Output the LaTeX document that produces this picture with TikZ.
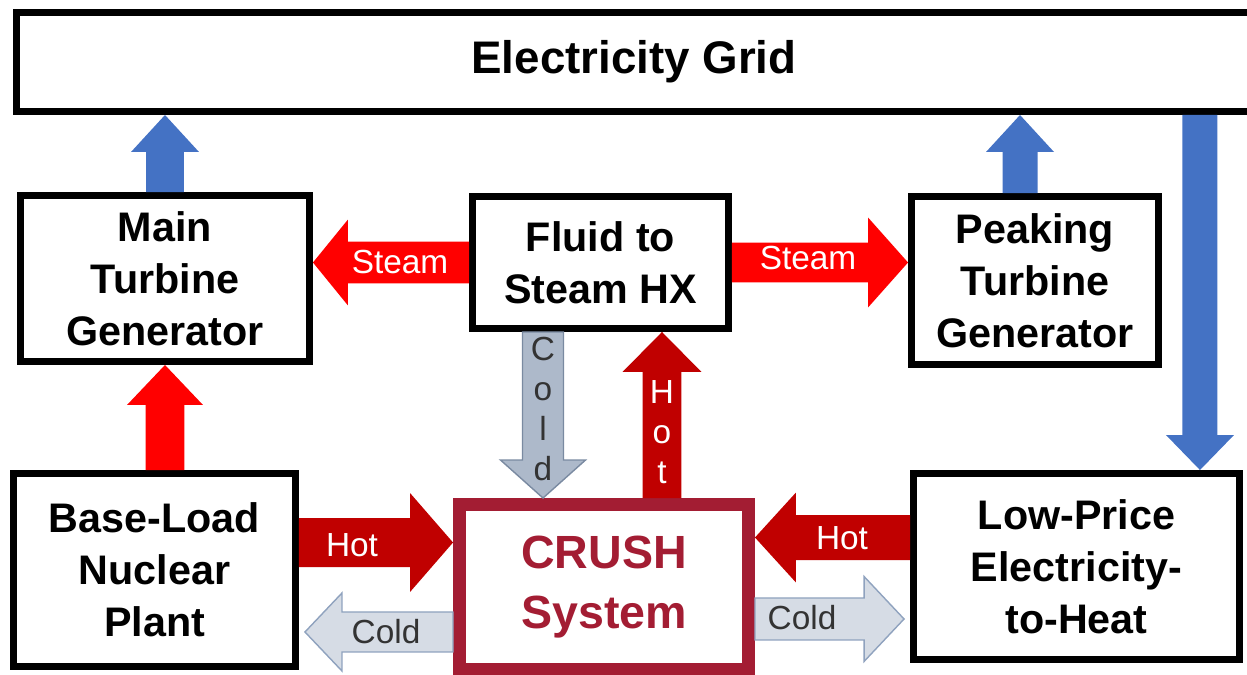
\documentclass[tikz,border=0pt]{standalone}
\usepackage{fontspec}
\setmainfont{Liberation Sans}
\usetikzlibrary{calc}

\definecolor{gridblue}{HTML}{4472C4}
\definecolor{steamred}{HTML}{FF0000}
\definecolor{hotred}{HTML}{C00000}
\definecolor{coldfill}{HTML}{D6DCE5}
\definecolor{coldline}{HTML}{8FA2BE}
\definecolor{colddark}{HTML}{ADB9CA}
\definecolor{crushred}{HTML}{A31D33}

\begin{document}
\begin{tikzpicture}[
    x=0.02cm, y=-0.02cm,
    font=\fontsize{23.5}{29.5}\selectfont\bfseries,
    box/.style={draw, line width=0.14cm, align=center, inner sep=0pt},
    lbl/.style={font=\fontsize{19}{22.7}\selectfont, align=center, inner sep=0pt},
    blockarrow/.style n args={3}{to path={
        ($(\tikztostart)!#1!90:(\tikztotarget)$)
        -- ($($(\tikztotarget)!#3!(\tikztostart)$)!#1!90:(\tikztotarget)$)
        -- ($($(\tikztotarget)!#3!(\tikztostart)$)!#2!90:(\tikztotarget)$)
        -- (\tikztotarget)
        -- ($($(\tikztotarget)!#3!(\tikztostart)$)!#2!-90:(\tikztotarget)$)
        -- ($($(\tikztotarget)!#3!(\tikztostart)$)!#1!-90:(\tikztotarget)$)
        -- ($(\tikztostart)!#1!-90:(\tikztotarget)$)
        -- cycle}},
    elec/.style={fill=gridblue, draw=none},
    steam/.style={fill=steamred, draw=none},
    hot/.style={fill=hotred, draw=none},
    cold/.style={fill=coldfill, draw=coldline, line width=0.8pt},
  ]
    \useasboundingbox (0,0) rectangle (1247,675);

    % boxes
    \node[box, minimum width=24.72cm, minimum height=1.98cm, font=\fontsize{26}{30}\selectfont\bfseries] (grid) at (634,62) {Electricity Grid};
    \node[box, minimum width=5.78cm, minimum height=3.32cm] (mtg) at (165,278.5) {Main\\Turbine\\Generator};
    \node[box, minimum width=5.12cm, minimum height=2.64cm] (hx) at (600.5,262.5) {Fluid to\\Steam HX};
    \node[box, minimum width=4.94cm, minimum height=3.36cm] (ptg) at (1035,280.5) {Peaking\\Turbine\\Generator};
    \node[box, minimum width=5.64cm, minimum height=3.86cm] (bln) at (154.5,570) {Base-Load\\Nuclear\\Plant};
    \node[box, draw=crushred, text=crushred, line width=0.26cm, minimum width=5.78cm, minimum height=3.3cm,
          font=\fontsize{26.5}{34}\selectfont\bfseries] (crush) at (604,587) {CRUSH\\System};
    \node[box, minimum width=6.52cm, minimum height=3.72cm] (lph) at (1076.5,566.5) {Low-Price\\Electricity-\\to-Heat};

    \coordinate (ptgtop) at ([xshift=-0.3cm]ptg.north);
    \coordinate (lphtop) at ([xshift=2.47cm]lph.north);
    \coordinate (coldtop) at ([xshift=-1.15cm]hx.south);
    \coordinate (hotbot) at ([xshift=1.16cm]crush.north);
    \coordinate (bhot) at ([yshift=0.55cm]bln.east);
    \coordinate (bcold) at ([yshift=-1.24cm]bln.east);
    \coordinate (lhot) at ([yshift=0.58cm]lph.west);
    \coordinate (lcold) at ([yshift=-1.05cm]lph.west);

    % power to and from the grid
    \draw[elec, blockarrow={0.38cm}{0.68cm}{0.74cm}] (mtg.north) to (mtg.north |- grid.south);
    \draw[elec, blockarrow={0.35cm}{0.68cm}{0.74cm}] (ptgtop) to (ptgtop |- grid.south);
    \draw[elec, blockarrow={0.35cm}{0.68cm}{0.7cm}] (lphtop |- grid.south) to (lphtop);

    % steam
    \draw[steam, blockarrow={0.42cm}{0.86cm}{0.7cm}] (hx.west) to (hx.west -| mtg.east);
    \draw[steam, blockarrow={0.4cm}{0.9cm}{0.8cm}] (hx.east) to (hx.east -| ptg.west);
    \draw[steam, blockarrow={0.39cm}{0.76cm}{0.8cm}] (mtg.south |- bln.north) to (mtg.south);

    % hot and cold loops
    \draw[cold, fill=colddark, draw=coldline!85!black, blockarrow={0.41cm}{0.85cm}{0.76cm}] (coldtop) to (coldtop |- crush.north);
    \draw[hot, blockarrow={0.39cm}{0.79cm}{0.8cm}] (hotbot) to (hotbot |- hx.south);
    \draw[hot, blockarrow={0.49cm}{0.99cm}{0.86cm}] (bhot) to (bhot -| crush.west);
    \draw[cold, blockarrow={0.4cm}{0.78cm}{0.74cm}] (bcold -| crush.west) to ([xshift=0.12cm]bcold);
    \draw[hot, blockarrow={0.45cm}{0.9cm}{0.82cm}] (lhot) to (lhot -| crush.east);
    \draw[cold, blockarrow={0.42cm}{0.85cm}{0.8cm}] (lcold -| crush.east) to ([xshift=-0.12cm]lcold);

    % arrow labels
    \node[lbl, text=white] (steamL) at (400,262) {Steam};
    \node[lbl, text=white] (steamR) at (808,258) {Steam};
    \node[lbl, text=white] (hotB) at (352,545) {Hot};
    \node[lbl, text=black!80] (coldB) at (386,632) {Cold};
    \node[lbl, text=white] (hotL) at (842,538) {Hot};
    \node[lbl, text=black!80] (coldL) at (802,618) {Cold};
    \node[lbl, text=black!80] (coldV) at (543,409) {C\\o\\l\\d};
    \node[lbl, text=white] (hotV) at (662,432) {H\\o\\t};
\end{tikzpicture}
\end{document}
